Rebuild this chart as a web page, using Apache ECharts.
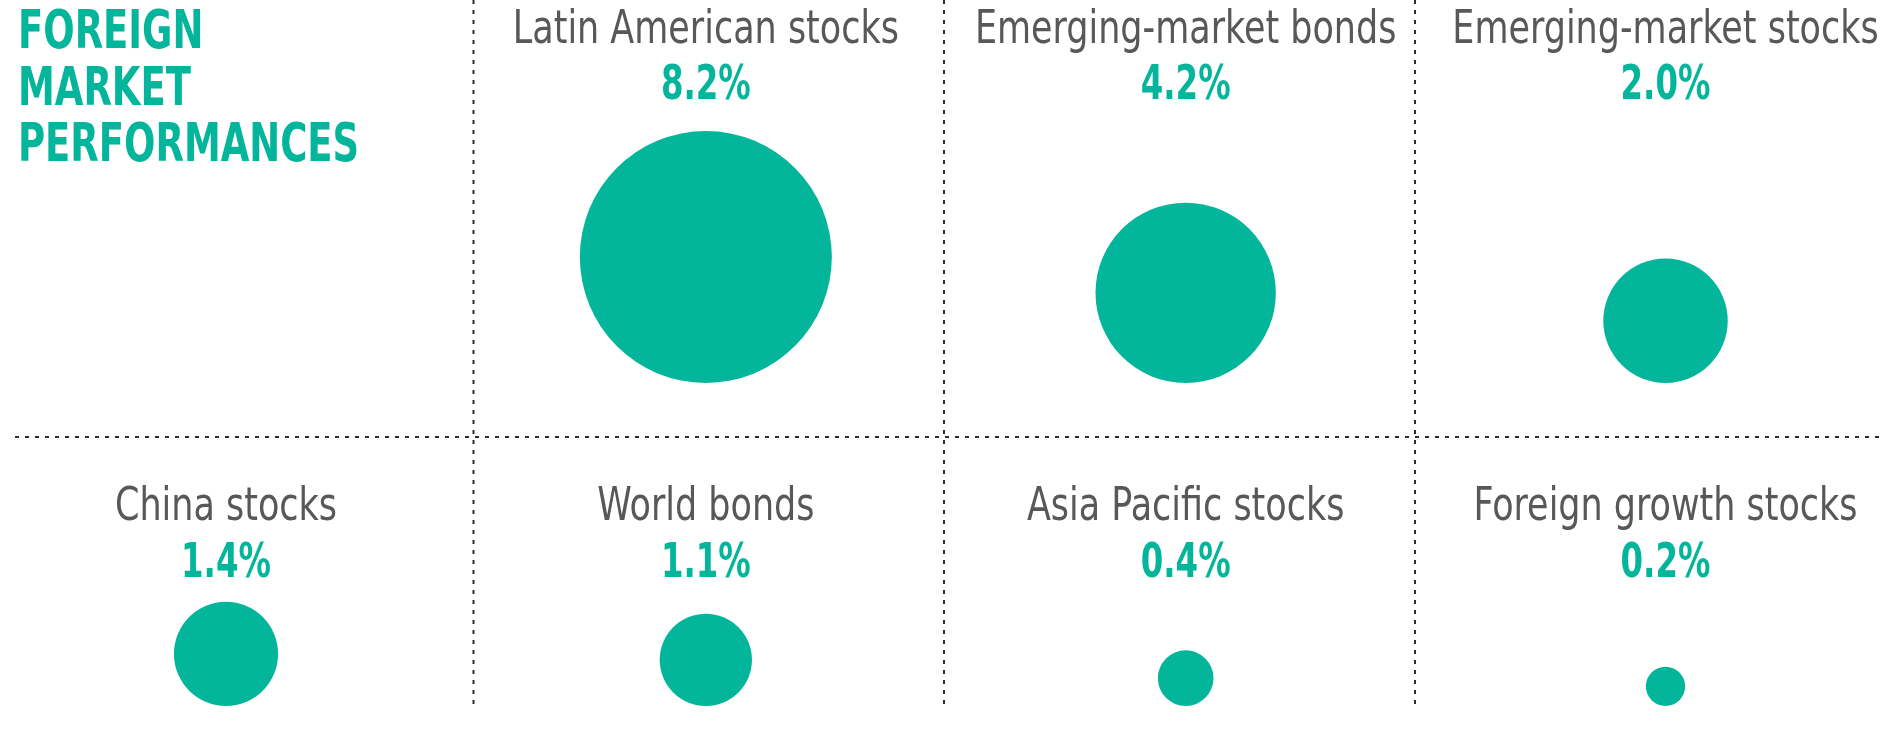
<!DOCTYPE html>
<html>
<head>
<meta charset="utf-8">
<script src="https://cdn.jsdelivr.net/npm/echarts@6/dist/echarts.min.js"></script>
<style>
html,body{margin:0;padding:0;background:#fff;}
#chart{width:1900px;height:731px;}
</style>
</head>
<body>
<div id="chart"></div>
<script>
// ---- data ----
const titleLines = ['FOREIGN', 'MARKET', 'PERFORMANCES'];
const categories = ['Latin American stocks', 'Emerging-market bonds', 'Emerging-market stocks',
  'China stocks', 'World bonds', 'Asia Pacific stocks', 'Foreign growth stocks'];
const values = [8.2, 4.2, 2.0, 1.4, 1.1, 0.4, 0.2];

// ---- styles ----
const GREEN = '#03B59A';
const GRAY = '#58585A';
const FONT = '"DejaVu Sans Condensed", "Liberation Sans Narrow", "Roboto", sans-serif';
const MAX_DIAM = 252;
const NAME_OFFSET = [-352, -198];   // per row, px above row baseline
const VALUE_OFFSET = [-296, -141];
const NAME_SCALE = 0.845;
const VALUE_SCALE = 0.75;
const TITLE_SCALE = 0.775;

const maxV = Math.max(...values);
// cell slot: first cell (top-left) holds the title
const pts = values.map((v, i) => {
  const slot = i + 1;
  return [slot % 4, Math.floor(slot / 4), v];
});

const chart = echarts.init(document.getElementById('chart'), null, { renderer: 'canvas' });

const dash = { stroke: '#2b2b2b', lineWidth: 2, lineDash: [4, 6] };
const titleY = [34, 91, 147];

chart.setOption({
  backgroundColor: '#fff',
  animation: false,
  grid: { left: 226, right: 234.5, top: 383, bottom: 25, containLabel: false },
  xAxis: { type: 'value', min: 0, max: 3, show: false },
  yAxis: { type: 'value', min: 0, max: 1, inverse: true, show: false },
  graphic: [
    { type: 'line', shape: { x1: 473.5, y1: 0, x2: 473.5, y2: 704 }, style: dash, silent: true },
    { type: 'line', shape: { x1: 944, y1: 0, x2: 944, y2: 704 }, style: dash, silent: true },
    { type: 'line', shape: { x1: 1415, y1: 0, x2: 1415, y2: 704 }, style: dash, silent: true },
    { type: 'line', shape: { x1: 15, y1: 437, x2: 1885, y2: 437 }, style: dash, silent: true }
  ].concat(titleLines.map((t, i) => ({
    type: 'text', x: 18, y: titleY[i], scaleX: TITLE_SCALE, silent: true,
    style: {
      text: t, x: 0, y: 0, align: 'left', verticalAlign: 'middle',
      fill: GREEN, fontFamily: FONT, fontWeight: 'bold', fontSize: 53
    }
  }))),
  series: [
    {
      type: 'scatter', name: 'circles',
      data: pts.map((p, i) => ({ value: p, name: categories[i] })),
      symbol: 'circle',
      symbolSize: d => MAX_DIAM * Math.sqrt(d[2] / maxV),
      symbolOffset: [0, '-50%'],
      itemStyle: { color: GREEN, opacity: 1 },
      label: { show: false },
      silent: true
    },
    {
      type: 'custom', name: 'labels',
      data: pts,
      encode: { x: 0, y: 1 },
      silent: true,
      renderItem: (params, api) => {
        const col = api.value(0), row = api.value(1), v = api.value(2);
        const pt = api.coord([col, row]);
        return {
          type: 'group',
          children: [
            {
              type: 'text', x: pt[0], y: pt[1] + NAME_OFFSET[row], scaleX: NAME_SCALE,
              style: {
                text: categories[params.dataIndex], x: 0, y: 0,
                align: 'center', verticalAlign: 'middle',
                fill: GRAY, fontFamily: FONT, fontSize: 46
              }
            },
            {
              type: 'text', x: pt[0], y: pt[1] + VALUE_OFFSET[row], scaleX: VALUE_SCALE,
              style: {
                text: v.toFixed(1) + '%', x: 0, y: 0,
                align: 'center', verticalAlign: 'middle',
                fill: GREEN, fontFamily: FONT, fontWeight: 'bold', fontSize: 48
              }
            }
          ]
        };
      }
    }
  ]
});
</script>
</body>
</html>
